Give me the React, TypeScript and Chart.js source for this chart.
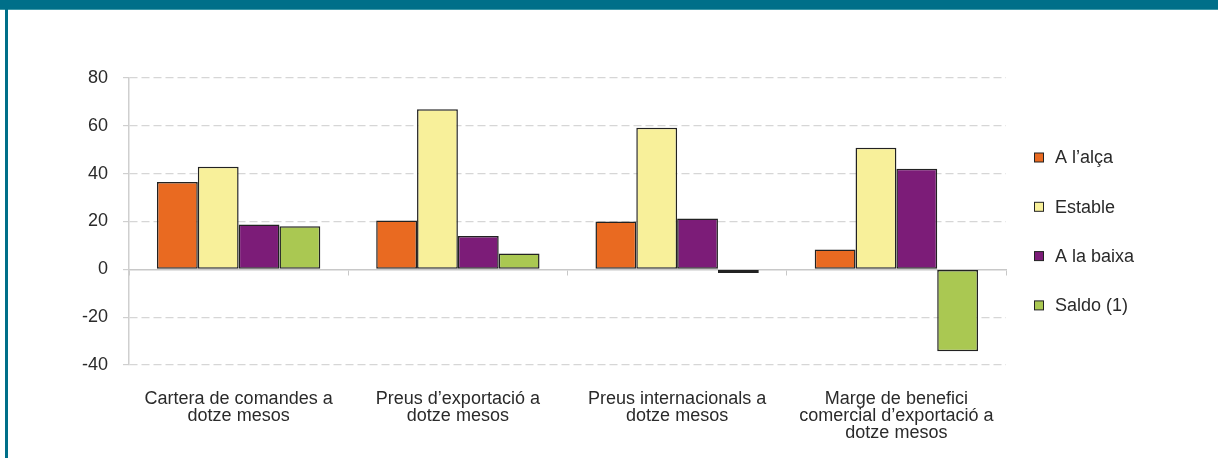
import React, { useEffect, useRef } from "react";
import { Chart, registerables } from "chart.js";

Chart.register(...registerables);

const categories: string[][] = [
  ["Cartera de comandes a", "dotze mesos"],
  ["Preus d\u2019exportació a", "dotze mesos"],
  ["Preus internacionals a", "dotze mesos"],
  ["Marge de benefici", "comercial d\u2019exportació a", "dotze mesos"],
];

const seriesNames = ["A l\u2019alça", "Estable", "A la baixa", "Saldo (1)"];
const alcaValues = [36.5, 20.4, 20.0, 8.3];
const estableValues = [42.9, 66.9, 59.2, 50.8];
const baixaValues = [18.7, 13.9, 21.3, 42.1];
const saldoValues = [18.0, 6.6, -1.5, -34.2];

const yTicks = { min: -40, max: 80, step: 20 };

const seriesColors = ["#E96A21", "#F8F09A", "#7C1C78", "#AAC852"];

const FONT = "'Liberation Sans', Arial, Helvetica, sans-serif";
const TEXT = "#2a2a2a";

const sideLegend = {
  id: "sideLegend",
  afterDraw(chart: any) {
    const { ctx, chartArea } = chart;
    ctx.save();
    ctx.font = `18px ${FONT}`;
    ctx.textBaseline = "middle";
    ctx.textAlign = "left";
    chart.data.datasets.forEach((ds: any, i: number) => {
      const cy = 157.5 + i * 49.3;
      const bx = chartArea.right + 28.5;
      ctx.fillStyle = ds.backgroundColor;
      ctx.fillRect(bx, cy - 4.5, 9, 9);
      ctx.strokeStyle = "#222";
      ctx.lineWidth = 1;
      ctx.strokeRect(bx, cy - 4.5, 9, 9);
      ctx.fillStyle = TEXT;
      ctx.fillText(ds.label, chartArea.right + 49, cy + 1);
    });
    ctx.restore();
  },
};

export default function App() {
  const ref = useRef<HTMLCanvasElement | null>(null);

  useEffect(() => {
    if (!ref.current) return;
    const values = [alcaValues, estableValues, baixaValues, saldoValues];
    const chart = new Chart(ref.current, {
      type: "bar",
      data: {
        labels: categories,
        datasets: seriesNames.map((name, i) => ({
          label: name,
          data: values[i],
          backgroundColor: seriesColors[i],
          borderColor: "#222222",
          borderWidth: 1.5,
          borderSkipped: false,
          categoryPercentage: 0.745,
          barPercentage: 1.0,
          xAxisID: "x",
          yAxisID: "y",
        })),
      },
      options: {
        responsive: false,
        animation: false,
        events: [],
        layout: { padding: { left: 0, top: 78, right: 212, bottom: 0 } },
        plugins: {
          legend: { display: false },
          tooltip: { enabled: false },
          title: { display: false },
        },
        scales: {
          x: {
            type: "category",
            position: "bottom",
            offset: true,
            grid: { display: false },
            border: { display: false },
            ticks: {
              color: TEXT,
              font: { family: FONT, size: 18, lineHeight: 0.96 },
              padding: 17,
              maxRotation: 0,
              minRotation: 0,
              autoSkip: false,
            },
            afterFit: (s: any) => {
              s.height = 93;
            },
          },
          x2: {
            type: "category",
            position: { y: 0 },
            offset: true,
            grid: {
              offset: true,
              drawOnChartArea: false,
              drawTicks: true,
              tickLength: 5,
              color: "#c8c8c8",
              lineWidth: 1,
            },
            border: { display: true, color: "#c8c8c8", width: 1.5 },
            ticks: { display: false },
          },
          y: {
            type: "linear",
            min: yTicks.min,
            max: yTicks.max,
            ticks: {
              stepSize: yTicks.step,
              color: TEXT,
              font: { family: FONT, size: 18 },
              padding: 15,
            },
            grid: {
              color: (c: any) => (c.tick && c.tick.value === 0 ? "rgba(0,0,0,0)" : "#d6d6d6"),
              lineWidth: 1.2,
              tickColor: "#cfcfcf",
              tickLength: 6,
              drawTicks: true,
            },
            border: { display: true, color: "#cfcfcf", width: 1.5, dash: [8, 4] },
            afterFit: (s: any) => {
              s.width = 129;
            },
          },
        },
      },
      plugins: [sideLegend],
    } as any);
    return () => chart.destroy();
  }, []);

  return (
    <div
      style={{
        position: "absolute",
        left: 0,
        top: 0,
        width: 1218,
        height: 458,
        background: "#ffffff",
        overflow: "hidden",
      }}
    >
      <div style={{ position: "absolute", left: 0, top: 0, width: 1218, height: 9, background: "#006F89" }} />
      <div style={{ position: "absolute", left: 0, top: 9, width: 1218, height: 1, background: "#3E98A8" }} />
      <div style={{ position: "absolute", left: 5, top: 9, width: 3, height: 449, background: "#006F89" }} />
      <canvas ref={ref} width={1218} height={458} style={{ position: "absolute", left: 0, top: 0, width: 1218, height: 458 }} />
    </div>
  );
}
